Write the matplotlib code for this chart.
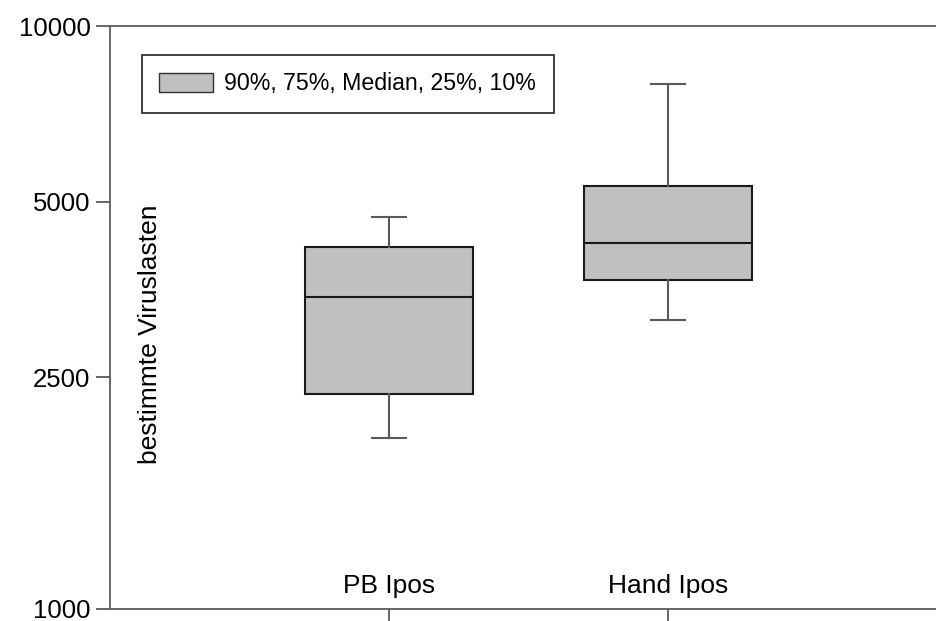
import numpy as np
import matplotlib.pyplot as plt
from matplotlib.patches import Patch
from matplotlib.ticker import FixedLocator, NullLocator

plt.rcParams['font.family'] = ['Liberation Sans', 'DejaVu Sans']

groups = ['PB Ipos', 'Hand Ipos']
p10 = [1967, 3128]
p25 = [2341, 3663]
median = [3424, 4250]
p75 = [4173, 5316]
p90 = [4703, 7962]
y_ticks = [1000, 2500, 5000, 10000]
legend_text = '90%, 75%, Median, 25%, 10%'
ylabel = 'bestimmte Viruslasten'

W, H = 936, 621
fig = plt.figure(figsize=(W / 100, H / 100), dpi=100)
ax = fig.add_axes([110 / W, (H - 609) / H, (W - 110) / W, (609 - 26) / H])

stats = []
for i in range(len(groups)):
    stats.append({'whislo': p10[i], 'q1': p25[i], 'med': median[i],
                  'q3': p75[i], 'whishi': p90[i], 'fliers': [], 'label': groups[i]})

grey = '#5a5a5a'
ax.bxp(stats, positions=[1, 2], widths=0.6, patch_artist=True, showfliers=False,
       boxprops=dict(facecolor='#c0c0c0', edgecolor='#1a1a1a', linewidth=1.5),
       medianprops=dict(color='#1a1a1a', linewidth=1.5),
       whiskerprops=dict(color=grey, linewidth=1.5),
       capprops=dict(color=grey, linewidth=1.5),
       capwidths=0.12)

ax.set_yscale('log')
ax.set_ylim(1000, 10000)
ax.set_xlim(0, 2.96)
ax.yaxis.set_major_locator(FixedLocator(y_ticks))
ax.yaxis.set_minor_locator(NullLocator())
ax.set_yticklabels([str(t) for t in y_ticks])
ax.set_xticks([1, 2])
ax.set_xticklabels([])

ax.spines['right'].set_visible(False)
for s in ['left', 'bottom', 'top']:
    ax.spines[s].set_color(grey)
    ax.spines[s].set_linewidth(1.3)
ax.tick_params(axis='both', direction='out', length=10, width=1.3, color=grey,
               labelsize=18.5, pad=4)

for i, g in enumerate(groups):
    ax.text(i + 1, 1065, g, ha='center', va='baseline', fontsize=19)

ax.text(40 / 826, 0.472, ylabel, transform=ax.transAxes, rotation=90,
        ha='center', va='center', fontsize=19)

leg = ax.legend(handles=[Patch(facecolor='#c0c0c0', edgecolor='#303030', linewidth=1)],
                labels=[legend_text], loc='upper left',
                bbox_to_anchor=(142 / W, 1 - 55 / H), bbox_transform=fig.transFigure,
                fontsize=16.7, fancybox=False, framealpha=1, edgecolor='#202020',
                borderpad=0.75, handlelength=2.3, handleheight=0.85, handletextpad=0.5,
                borderaxespad=0)
leg.get_frame().set_linewidth(1.2)

fig.savefig('out.png', dpi=100)
